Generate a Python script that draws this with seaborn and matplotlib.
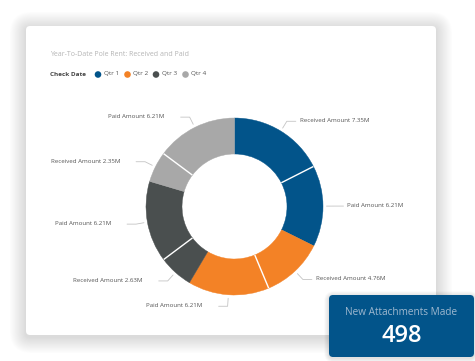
import numpy as np
import pandas as pd
import seaborn as sns
import matplotlib
matplotlib.use("Agg")
import matplotlib.pyplot as plt
from matplotlib.patches import FancyBboxPatch, Circle

# ---- data ----
quarters = ["Qtr 1", "Qtr 2", "Qtr 3", "Qtr 4"]
received = [7.35, 4.76, 2.63, 2.35]
paid = [6.21, 6.21, 6.21, 6.21]
quarter_colors = ["#02548a", "#f38226", "#4a4f4f", "#a8a8a8"]
title = "Year-To-Date Pole Rent: Received and Paid"
legend_title = "Check Date"
kpi_label = "New Attachments Made"
kpi_value = 498

sns.set_theme(style="white")
plt.rcParams["font.family"] = ["Open Sans", "DejaVu Sans"]

W, H = 475, 361
fig = plt.figure(figsize=(W / 100, H / 100), dpi=100)
fig.patch.set_facecolor("white")
ax = fig.add_axes([0, 0, 1, 1])

def Y(y):
    return H - y

# ---- card with soft shadow ----
cx0, cy0, cx1, cy1 = 26, 26, 436, 335
for i in range(18, 0, -1):
    sh = FancyBboxPatch((cx0 - i * 0.9, Y(cy1) - i * 0.9 - 2), (cx1 - cx0) + i * 1.8,
                        (cy1 - cy0) + i * 1.8, boxstyle="round,pad=0,rounding_size=%f" % (4 + i),
                        fc="black", ec="none", alpha=0.007, zorder=0)
    ax.add_patch(sh)
card = FancyBboxPatch((cx0, Y(cy1)), cx1 - cx0, cy1 - cy0,
                      boxstyle="round,pad=0,rounding_size=4", fc="white", ec="none", zorder=1)
ax.add_patch(card)

# ---- donut ----
values, labels, colors = [], [], []
for q, r, p, c in zip(quarters, received, paid, quarter_colors):
    values += [r, p]
    labels += [f"Received Amount {r:.2f}M", f"Paid Amount {p:.2f}M"]
    colors += [c, c]

center = (234.5, Y(206.5))
R_out, R_in = 88.5, 52.5
wedges, _ = ax.pie(values, colors=colors, startangle=90, counterclock=False,
                   radius=R_out, center=center,
                   wedgeprops=dict(width=R_out - R_in, edgecolor="none", linewidth=0),
                   frame=True)
for w in wedges:
    w.set_zorder(3)
    w.set_edgecolor(w.get_facecolor())
    w.set_linewidth(0.3)

total = sum(values)
cum = np.cumsum(values)
# white separators between received and paid inside each quarter
for k in range(0, len(values), 2):
    ang = np.deg2rad(90 - cum[k] / total * 360)
    ax.plot([center[0] + R_in * np.cos(ang), center[0] + R_out * np.cos(ang)],
            [center[1] + R_in * np.sin(ang), center[1] + R_out * np.sin(ang)],
            color="white", lw=1.0, zorder=4, solid_capstyle="butt")

# labels with leader lines
starts = np.concatenate([[0], cum[:-1]])
for v, s, lab in zip(values, starts, labels):
    mid = np.deg2rad(90 - (s + v / 2) / total * 360)
    ax_ = center[0] + 92 * np.cos(mid)
    ay_ = center[1] + 92 * np.sin(mid)
    bx = center[0] + 100 * np.cos(mid)
    by = center[1] + 100 * np.sin(mid)
    side = 1 if np.cos(mid) > 1e-6 else -1
    hx = bx + side * 9
    ax.plot([ax_, bx, hx], [ay_, by, by], color="#c4c4c4", lw=0.6, zorder=4)
    if side > 0:
        ax.text(hx + 4, by + 0.5, lab, ha="left", va="center", fontsize=4.45, color="#555555", zorder=5)
    else:
        ax.text(hx - 16, by + 0.5, lab, ha="right", va="center", fontsize=4.45, color="#555555", zorder=5)

# ---- title and legend ----
ax.text(50, Y(55), title, ha="left", va="center", fontsize=5.0, color="#b5b5b5", zorder=5)
ax.text(50, Y(74), legend_title, ha="left", va="center", fontsize=4.6, color="#444444",
        fontweight="bold", zorder=5)
leg_x = [98, 127.5, 156, 185.5]
for q, c, lx in zip(quarters, quarter_colors, leg_x):
    ax.add_patch(Circle((lx, Y(74.5)), 3.3, fc=c, ec="none", zorder=5))
    ax.text(lx + 5.5, Y(74), q, ha="left", va="center", fontsize=4.6, color="#555555", zorder=5)

# ---- KPI box ----
bx0, by0, bx1, by1 = 329, 295, 474, 357
for i in range(6, 0, -1):
    sh = FancyBboxPatch((bx0 - i * 0.8, Y(by1) - i * 0.8 - 1), (bx1 - bx0) + i * 1.6,
                        (by1 - by0) + i * 1.6, boxstyle="round,pad=0,rounding_size=%f" % (4 + i),
                        fc="black", ec="none", alpha=0.02, zorder=6)
    ax.add_patch(sh)
kbox = FancyBboxPatch((bx0, Y(by1)), bx1 - bx0, by1 - by0,
                      boxstyle="round,pad=0,rounding_size=4", fc="#02548a", ec="none", zorder=7)
ax.add_patch(kbox)
ax.text((bx0 + bx1) / 2, Y(312.5), kpi_label, ha="center", va="center", fontsize=7.2,
        color="#9fb8cf", zorder=8)
ax.text((bx0 + bx1) / 2, Y(336), str(kpi_value), ha="center", va="center", fontsize=17,
        color="white", fontweight="semibold", zorder=8)

ax.set_xlim(0, W)
ax.set_ylim(0, H)
ax.set_aspect("auto")
ax.axis("off")
fig.savefig("out.png", dpi=100, facecolor="white")
